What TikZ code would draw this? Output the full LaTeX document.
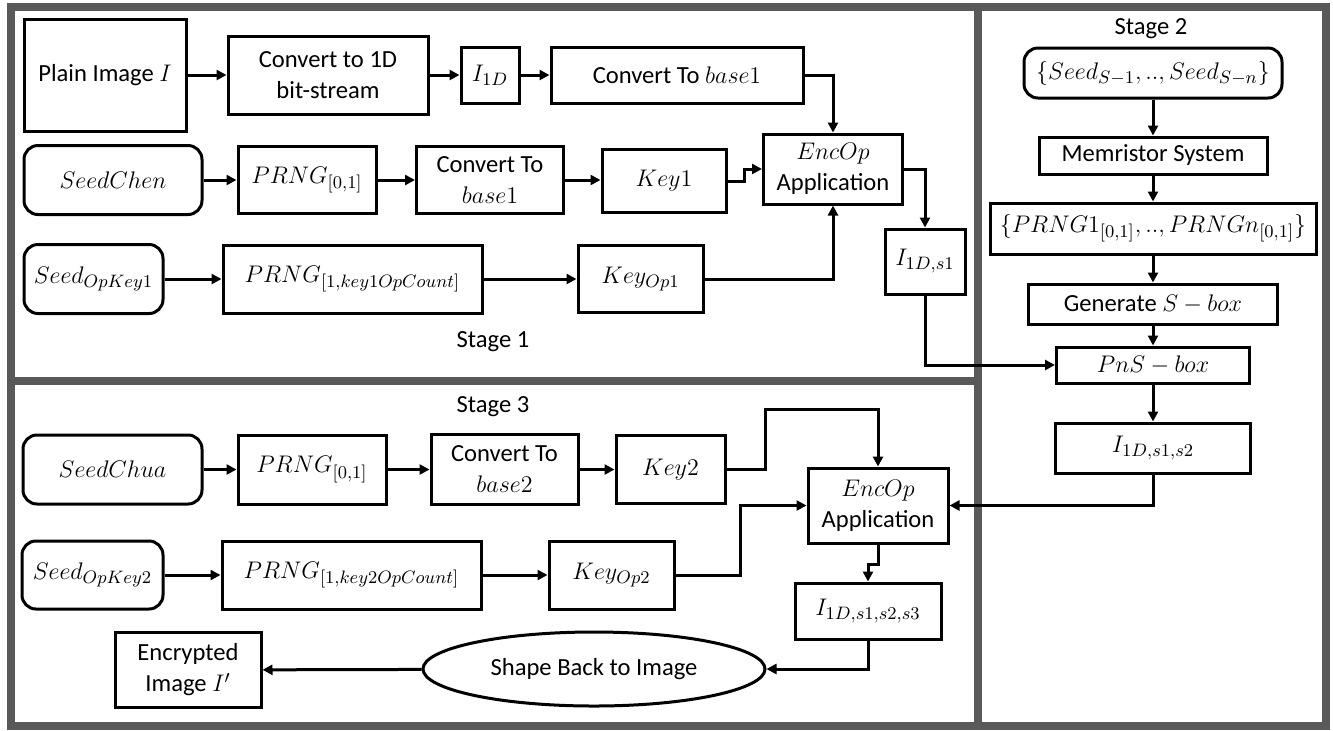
\documentclass[tikz,border=0pt]{standalone}
\usepackage{fontspec}
\setmainfont{Carlito}
\usetikzlibrary{arrows.meta,shapes.geometric}
\definecolor{framegray}{HTML}{595959}
\begin{document}
\begin{tikzpicture}[x=0.5pt,y=-0.5pt,
  every node/.style={font=\fontsize{12.3}{15.5}\selectfont},
  blk/.style n args={2}{draw,line width=1.5pt,align=center,inner sep=0pt,
     minimum width=#1*0.5pt,minimum height=#2*0.5pt},
  rblk/.style n args={2}{blk={#1}{#2},rounded corners=7pt},
  ell/.style n args={2}{draw,ellipse,line width=1.5pt,inner sep=0pt,
     minimum width=#1*0.5pt,minimum height=#2*0.5pt},
  arr/.style={line width=1.5pt,-{Triangle[length=5pt,width=5pt]}},
  frame/.style={draw=framegray,line width=4pt},
  lbl/.style={inner sep=0pt}]
\useasboundingbox (0,0) rectangle (1333,730);
% frames
\draw[frame] (11,7) rectangle (1326,726);
\draw[frame] (978,7) -- (978,726);
\draw[frame] (11,381) -- (978,381);
% labels
\node[lbl] (st1) at (493,342) {Stage 1};
\node[lbl] (st2) at (1151,29) {Stage 2};
\node[lbl] (st3) at (493,407) {Stage 3};
% stage 1
\node[blk={162}{112}] (plain) at (105,75) {Plain Image $I$};
\node[blk={200}{78}] (conv1d) at (328,75) {Convert to 1D\\bit-stream};
\node[blk={58}{56}] (i1d) at (490,75) {$I_{1D}$};
\node[blk={252}{56}] (convb1) at (677,75) {Convert To $base1$};
\node[blk={139}{70}] (enc1) at (833,169) {$EncOp$\\Application};
\node[rblk={178}{69}] (seedchen) at (113,180) {$SeedChen$};
\node[blk={138}{67}] (prng1) at (307,180) {$PRNG_{[0,1]}$};
\node[blk={147}{67}] (convb1b) at (490,180) {Convert To\\$base1$};
\node[blk={124}{63}] (key1) at (664,181) {$Key1$};
\node[rblk={139}{69}] (seedop1) at (93.5,279) {$Seed_{OpKey1}$};
\node[blk={259}{68}] (prngop1) at (352.5,279) {$PRNG_{[1,key1OpCount]}$};
\node[blk={125}{67}] (keyop1) at (640.5,279) {$Key_{Op1}$};
\node[blk={80}{65}] (is1) at (925,261.5) {$I_{1D,s1}$};
% stage 2
\node[rblk={258}{50}] (seeds) at (1153,73) {$\{Seed_{S-1},..,Seed_{S-n}\}$};
\node[blk={228}{37}] (memr) at (1153,155.5) {Memristor System};
\node[blk={326}{51}] (prngset) at (1153,228.5) {$\{PRNG1_{[0,1]},..,PRNGn_{[0,1]}\}$};
\node[blk={249}{40}] (gen) at (1153,304) {Generate $S-box$};
\node[blk={193}{36}] (pns) at (1153,365) {$PnS-box$};
\node[blk={195}{50}] (is12) at (1153,448) {$I_{1D,s1,s2}$};
% stage 3
\node[rblk={179}{69}] (seedchua) at (112.5,469.5) {$SeedChua$};
\node[blk={148}{69}] (prng2) at (312,469.5) {$PRNG_{[0,1]}$};
\node[blk={147}{70}] (convb2) at (504.5,469.5) {Convert To\\$base2$};
\node[blk={109}{68}] (key2) at (670.5,469.5) {$Key2$};
\node[blk={140}{75}] (enc2) at (878,505.5) {$EncOp$\\Application};
\node[rblk={141}{68}] (seedop2) at (92.5,575) {$Seed_{OpKey2}$};
\node[blk={259}{68}] (prngop2) at (351.5,575) {$PRNG_{[1,key2OpCount]}$};
\node[blk={125}{68}] (keyop2) at (611.5,575) {$Key_{Op2}$};
\node[blk={146}{56}] (is3) at (868,611) {$I_{1D,s1,s2,s3}$};
\node[ell={342}{74}] (shape) at (594,669) {Shape Back to Image};
\node[blk={146}{75}] (encimg) at (188,670) {Encrypted\\Image $I'$};
% connectors stage 1
\draw[arr] (plain) -- (conv1d);
\draw[arr] (conv1d) -- (i1d);
\draw[arr] (i1d) -- (convb1);
\draw[arr] (convb1.east) -| (enc1.north);
\draw[arr] (seedchen) -- (prng1);
\draw[arr] (prng1) -- (convb1b);
\draw[arr] (convb1b.east) -- (key1.west |- convb1b.east);
\draw[arr] (key1.east) -- ++(17,0) |- (enc1.west);
\draw[arr] (seedop1) -- (prngop1);
\draw[arr] (prngop1) -- (keyop1);
\draw[arr] (keyop1.east) -| (enc1.south);
\draw[arr] (enc1.east) -| (is1.north);
\draw[arr] (is1.south) |- (pns.west);
% stage 2
\draw[arr] (seeds) -- (memr);
\draw[arr] (memr) -- (prngset);
\draw[arr] (prngset) -- (gen);
\draw[arr] (gen) -- (pns);
\draw[arr] (pns) -- (is12);
\draw[arr] (is12.south) |- (enc2.east);
% stage 3
\draw[arr] (seedchua) -- (prng2);
\draw[arr] (prng2) -- (convb2);
\draw[arr] (convb2) -- (key2);
\draw[arr] (key2.east) -| (765,409) -| (enc2.north);
\draw[arr] (seedop2) -- (prngop2);
\draw[arr] (prngop2) -- (keyop2);
\draw[arr] (keyop2.east) -| (740,505.5) -- (enc2.west);
\draw[arr] (enc2.south) -- ++(0,20) -| (is3.north);
\draw[arr] (is3.south) |- (shape.east);
\draw[arr] (shape) -- (encimg);
\end{tikzpicture}
\end{document}
